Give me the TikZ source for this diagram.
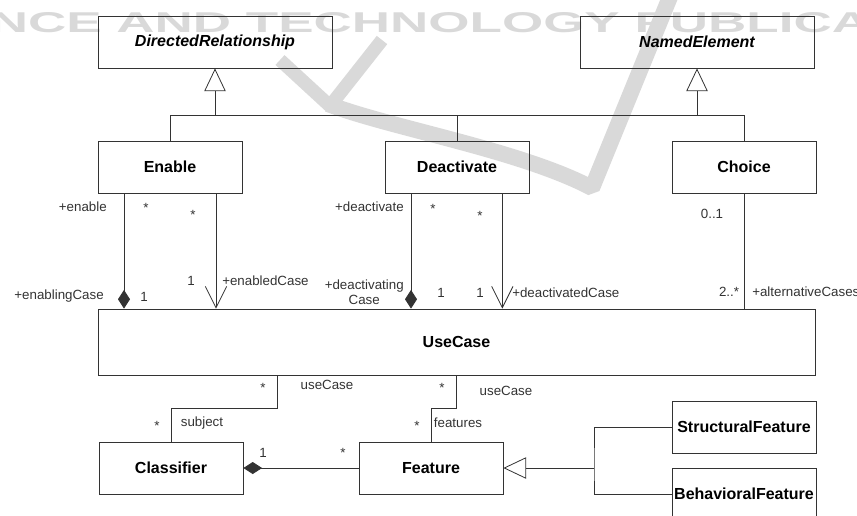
\documentclass[tikz,border=0pt]{standalone}
\usepackage{fontspec}
\setmainfont{Liberation Sans}
\usepackage{tikz}
\usetikzlibrary{arrows.meta}
\definecolor{umlline}{gray}{0.2}
\definecolor{watermark}{gray}{0.85}
\tikzstyle{umlclass} = [draw=umlline, line width=0.6pt, rectangle, inner sep=0pt, minimum width=108pt, minimum height=39pt, font=\fontsize{12}{14}\selectfont\bfseries]
\tikzstyle{abstractclass} = [umlclass, minimum width=175.5pt, font=\fontsize{12}{14}\selectfont\bfseries\itshape]
\tikzstyle{role} = [inner sep=0pt, text=umlline, font=\fontsize{10}{11.5}\selectfont]
\tikzstyle{mult} = [role, anchor=north]
\tikzstyle{assoc} = [draw=umlline, line width=0.6pt]
\tikzstyle{inherit} = [assoc, -{Triangle[open, length=17pt, width=16pt]}]
\tikzstyle{composite} = [assoc, -{Diamond[length=14pt, width=9pt]}]
\tikzstyle{navigable} = [assoc, -{Straight Barb[length=16pt, width=16pt]}]

\begin{document}
\begin{tikzpicture}[x=0.75pt, y=-0.75pt]
    \useasboundingbox (0,0) rectangle (857,515);
    % watermark
    \node[text=watermark, inner sep=0pt] (wmtext) at (430,23) {\resizebox{660pt}{15pt}{\bfseries NCE AND TECHNOLOGY PUBLICA}};
    \draw[watermark, line width=10pt] (280,60) -- (330,106);
    \draw[watermark, line width=10pt] (382,40) -- (330,106);
    \draw[watermark, line width=12pt, line join=bevel] (328,104) .. controls (390,128) and (520,150) .. (592,188) -- (672,-8);

    % classes
    \node[abstractclass] (dirrel) at (215,42) {DirectedRelationship};
    \node[abstractclass] (named) at (697,42) {NamedElement};
    \node[umlclass] (enable) at (170,167) {Enable};
    \node[umlclass] (deactivate) at (457,167) {Deactivate};
    \node[umlclass] (choice) at (744,167) {Choice};
    \node[umlclass, minimum width=537.75pt, minimum height=49.5pt] (usecase) at (456.5,342) {UseCase};
    \node[umlclass] (classifier) at (171,468) {Classifier};
    \node[umlclass] (feature) at (431,468) {Feature};
    \node[umlclass] (structural) at (744,427) {StructuralFeature};
    \node[umlclass] (behavioral) at (744,494) {BehavioralFeature};

    \coordinate (bar) at (0,115);
    \coordinate (elbow) at (0,408);
    \coordinate (fork) at (594,468);
    \coordinate (enableA) at ([xshift=-34.5pt]enable.south);
    \coordinate (enableB) at ([xshift=34.5pt]enable.south);
    \coordinate (deactA) at ([xshift=-34.5pt]deactivate.south);
    \coordinate (deactB) at ([xshift=34pt]deactivate.south);
    \coordinate (ucA) at ([xshift=-134.6pt]usecase.south);

    % generalizations
    \draw[assoc] (enable.north) -- (enable.north |- bar) -- (choice.north |- bar) -- (choice.north);
    \draw[assoc] (deactivate.north) -- (deactivate.north |- bar);
    \draw[inherit] (dirrel.south |- bar) -- (dirrel.south);
    \draw[inherit] (named.south |- bar) -- (named.south);
    \draw[inherit] (fork) -- (feature.east);
    \draw[assoc] (structural.west) -| (fork) |- (behavioral.west);

    % associations
    \draw[composite] (enableA) -- (enableA |- usecase.north);
    \draw[navigable] (enableB) -- (enableB |- usecase.north);
    \draw[composite] (deactA) -- (deactA |- usecase.north);
    \draw[navigable] (deactB) -- (deactB |- usecase.north);
    \draw[assoc] (choice.south) -- (choice.south |- usecase.north);
    \draw[assoc] (ucA) -- (ucA |- elbow) -- (classifier.north |- elbow) -- (classifier.north);
    \draw[assoc] (usecase.south) -- (usecase.south |- elbow) -- (feature.north |- elbow) -- (feature.north);
    \draw[composite] (feature.west) -- (classifier.east);

    % roles and multiplicities
    \node[role, anchor=east] (rEnable) at (107,207) {+enable};
    \node[mult] (mEnableA) at (146,203) {*};
    \node[mult] (mEnableB) at (193,210) {*};
    \node[role, anchor=east] (rEnabling) at (104,296) {+enablingCase};
    \node[role] (mEnabling) at (144,297) {1};
    \node[role] (mEnabled) at (191,281) {1};
    \node[role, anchor=west] (rEnabled) at (222,281) {+enabledCase};

    \node[role, anchor=east] (rDeact) at (404,207) {+deactivate};
    \node[mult] (mDeactA) at (433,204) {*};
    \node[mult] (mDeactB) at (480,211) {*};
    \node[role, anchor=east, align=center] (rDeacting) at (404,292) {+deactivating\\Case};
    \node[role] (mDeacting) at (441,293) {1};
    \node[role] (mDeacted) at (480,293) {1};
    \node[role, anchor=west] (rDeacted) at (512,293) {+deactivatedCase};

    \node[role] (mChoice) at (712,214) {0..1};
    \node[role] (mAlt) at (729,292) {2..*};
    \node[role, anchor=west] (rAlt) at (752,292) {+alternativeCases};

    \node[mult] (mUcA) at (263,383) {*};
    \node[role] (rUcA) at (327,385) {useCase};
    \node[mult] (mSubject) at (157,421) {*};
    \node[role] (rSubject) at (202,423) {subject};
    \node[mult] (mUcB) at (442,383) {*};
    \node[role] (rUcB) at (506,391) {useCase};
    \node[mult] (mFeatures) at (417,421) {*};
    \node[role] (rFeatures) at (458,423) {features};
    \node[role] (mOwner) at (263,453) {1};
    \node[mult] (mOwned) at (343,448) {*};
\end{tikzpicture}
\end{document}
